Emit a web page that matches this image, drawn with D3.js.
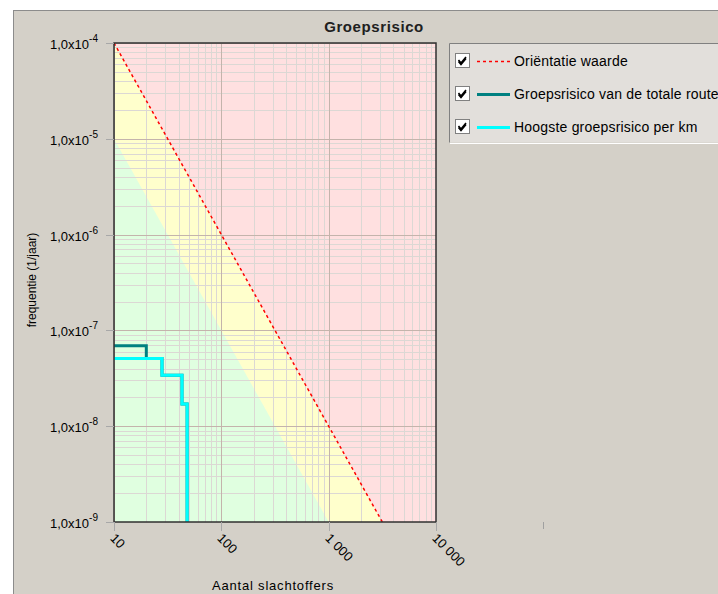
<!DOCTYPE html>
<html>
<head>
<meta charset="utf-8">
<script src="https://cdn.jsdelivr.net/npm/d3@7/dist/d3.min.js"></script>
<style>
  body { margin: 0; background: #fff; }
  svg { display: block; font-family: Arial, "Liberation Sans", sans-serif; }
</style>
</head>
<body>
<svg id="canvas" width="718" height="594"></svg>
<script>
// x: aantal slachtoffers, y: frequentie (1/jaar)
let xTicks = [10, 100, 1000, 10000]
let xTickLabels = ['10', '100', '1 000', '10 000']
let yTicks = [1e-4, 1e-5, 1e-6, 1e-7, 1e-8, 1e-9]
let yTickExp = ['-4', '-5', '-6', '-7', '-8', '-9']

// orientatiewaarde: F = 1e-2 / N^2
let orientN = [10, 3162]
let orientF = [1e-4, 1e-9]

// groepsrisico totale route (stappen)
let routeN = [10, 20, 28, 43, 48]
let routeF = [6.9e-8, 5.1e-8, 3.4e-8, 1.7e-8, 1e-9]

// hoogste groepsrisico per km
let kmN = [10, 28, 43, 48]
let kmF = [5.1e-8, 3.4e-8, 1.7e-8, 1e-9]

let legendLabels = ['Oriëntatie waarde', 'Groepsrisico van de totale route', 'Hoogste groepsrisico per km']
let legendColors = ['#ff0000', '#008080', '#00ffff']

let svg = d3.select('#canvas')

let pLeft = 114, pRight = 436, pTop = 43, pBottom = 522

let x = d3.scaleLog().domain([10, 10000]).range([pLeft, pRight])
let y = d3.scaleLog().domain([1e-9, 1e-4]).range([pBottom, pTop])

// gray panel
svg.append('rect').attr('x', 13.5).attr('y', 10.5).attr('width', 710).attr('height', 590)
  .attr('fill', '#d4d0c8').attr('stroke', '#8c8c8c')

svg.append('defs').append('clipPath').attr('id', 'clip')
  .append('rect').attr('x', pLeft).attr('y', pTop).attr('width', pRight - pLeft).attr('height', pBottom - pTop)

let plot = svg.append('g').attr('clip-path', 'url(#clip)')

// zones
let nn = d3.range(0, 301).map(i => Math.pow(10, 1 + i * 3 / 300))
plot.append('rect').attr('x', pLeft).attr('y', pTop).attr('width', pRight - pLeft).attr('height', pBottom - pTop)
  .attr('fill', '#ffe0e0')
let area = (c) => d3.area()
  .x(d => x(d))
  .y0(pBottom)
  .y1(d => y(Math.max(1e-12, c / (d * d))))
plot.append('path').datum(nn).attr('d', area(1e-2)).attr('fill', '#ffffcc')
plot.append('path').datum(nn).attr('d', area(1e-3)).attr('fill', '#e0ffe0')

// grid
let minorX = []
for (let dec = 10; dec < 10000; dec *= 10) for (let k = 2; k <= 9; k++) minorX.push(dec * k)
let minorY = []
for (let dec = 1e-9; dec < 1e-4 * 0.99; dec *= 10) for (let k = 2; k <= 9; k++) minorY.push(dec * k)

plot.selectAll('.mx').data(minorX).enter().append('line')
  .attr('x1', d => Math.round(x(d)) + 0.5).attr('x2', d => Math.round(x(d)) + 0.5)
  .attr('y1', pTop).attr('y2', pBottom).attr('stroke', '#dcd8d4').attr('stroke-width', 1)
plot.selectAll('.my').data(minorY).enter().append('line')
  .attr('y1', d => Math.round(y(d)) + 0.5).attr('y2', d => Math.round(y(d)) + 0.5)
  .attr('x1', pLeft).attr('x2', pRight).attr('stroke', '#dcd8d4').attr('stroke-width', 1)
plot.selectAll('.Mx').data(xTicks).enter().append('line')
  .attr('x1', d => Math.round(x(d)) + 0.5).attr('x2', d => Math.round(x(d)) + 0.5)
  .attr('y1', pTop).attr('y2', pBottom).attr('stroke', '#c4b4ac').attr('stroke-width', 1)
plot.selectAll('.My').data(yTicks).enter().append('line')
  .attr('y1', d => Math.round(y(d)) + 0.5).attr('y2', d => Math.round(y(d)) + 0.5)
  .attr('x1', pLeft).attr('x2', pRight).attr('stroke', '#c4b4ac').attr('stroke-width', 1)

// orientatie waarde
plot.append('path')
  .datum(orientN.map((n, i) => [n, orientF[i]]))
  .attr('d', d3.line().x(d => x(d[0])).y(d => y(d[1])))
  .attr('fill', 'none').attr('stroke', '#ff0000').attr('stroke-width', 1.5)
  .attr('stroke-dasharray', '3,3')

let step = d3.line().x(d => x(d[0])).y(d => y(d[1])).curve(d3.curveStepAfter)
plot.append('path')
  .datum(routeN.map((n, i) => [n, routeF[i]]))
  .attr('d', step).attr('fill', 'none').attr('stroke', '#008080').attr('stroke-width', 3)
plot.append('path')
  .datum(kmN.map((n, i) => [n, kmF[i]]))
  .attr('d', step).attr('fill', 'none').attr('stroke', '#00ffff').attr('stroke-width', 3)

// frame
svg.append('rect').attr('x', pLeft).attr('y', pTop).attr('width', pRight - pLeft).attr('height', pBottom - pTop)
  .attr('fill', 'none').attr('stroke', '#303030').attr('stroke-width', 1.5)

// y axis ticks
let yAxis = svg.append('g')
yTicks.forEach((t, i) => {
  let yy = Math.round(y(t)) + 0.5
  yAxis.append('line').attr('x1', 106).attr('x2', pLeft).attr('y1', yy).attr('y2', yy)
    .attr('stroke', '#a8a8a8')
  let txt = yAxis.append('text').attr('x', 50).attr('y', yy + 5)
    .attr('font-size', 13).attr('fill', '#000')
  txt.append('tspan').text('1,0x10')
  txt.append('tspan').attr('dy', -7).attr('font-size', 10).text(yTickExp[i])
})

// x axis ticks
let xAxis = svg.append('g')
xTicks.forEach((t, i) => {
  let xx = Math.round(x(t)) + 0.5
  xAxis.append('line').attr('x1', xx).attr('x2', xx).attr('y1', pBottom).attr('y2', 531)
    .attr('stroke', '#a8a8a8')
  xAxis.append('text')
    .attr('transform', 'translate(' + (xx - 5) + ',' + 539 + ') rotate(45)')
    .attr('font-size', 13).attr('fill', '#000')
    .text(xTickLabels[i])
})

// small mark at right
svg.append('line').attr('x1', 543.5).attr('x2', 543.5).attr('y1', 522).attr('y2', 529)
  .attr('stroke', '#a0a0a0')

// titles
svg.append('text').attr('x', 374).attr('y', 32).attr('text-anchor', 'middle')
  .attr('font-size', 15).attr('font-weight', 'bold').attr('letter-spacing', 0.6)
  .attr('fill', '#202020').text('Groepsrisico')
svg.append('text').attr('x', 273).attr('y', 590).attr('text-anchor', 'middle')
  .attr('font-size', 13).attr('letter-spacing', 0.8).attr('fill', '#000').text('Aantal slachtoffers')
svg.append('text').attr('transform', 'translate(36,280) rotate(-90)').attr('text-anchor', 'middle')
  .attr('font-size', 12).attr('fill', '#000').text('frequentie (1/jaar)')

// legend
let lg = svg.append('g')
lg.append('rect').attr('x', 449.5).attr('y', 43.5).attr('width', 280).attr('height', 99)
  .attr('fill', '#e2dfdb')
lg.append('path').attr('d', 'M449.5,142.5 V43.5 H718').attr('fill', 'none').attr('stroke', '#808080')
lg.append('path').attr('d', 'M450,143.5 H718').attr('fill', 'none').attr('stroke', '#ffffff')
legendLabels.forEach((lab, i) => {
  let cy = 61 + i * 33
  lg.append('rect').attr('x', 455.5).attr('y', cy - 7.5).attr('width', 14).attr('height', 14)
    .attr('fill', '#fff').attr('stroke', '#808080')
  lg.append('path').attr('d', 'M458.5,' + (cy - 1) + ' l2.5,3 l5,-6 M458.5,' + (cy + 0.5) + ' l2.5,3 l5,-6')
    .attr('fill', 'none').attr('stroke', '#000').attr('stroke-width', 1.6)
  lg.append('line').attr('x1', 477).attr('x2', 510).attr('y1', cy + 0.5).attr('y2', cy + 0.5)
    .attr('stroke', legendColors[i])
    .attr('stroke-width', i === 0 ? 1.5 : 3)
    .attr('stroke-dasharray', i === 0 ? '3,3' : null)
  lg.append('text').attr('x', 514).attr('y', cy + 5).attr('font-size', 14).attr('letter-spacing', 0.2)
    .attr('fill', '#000').text(lab)
})
</script>
</body>
</html>
